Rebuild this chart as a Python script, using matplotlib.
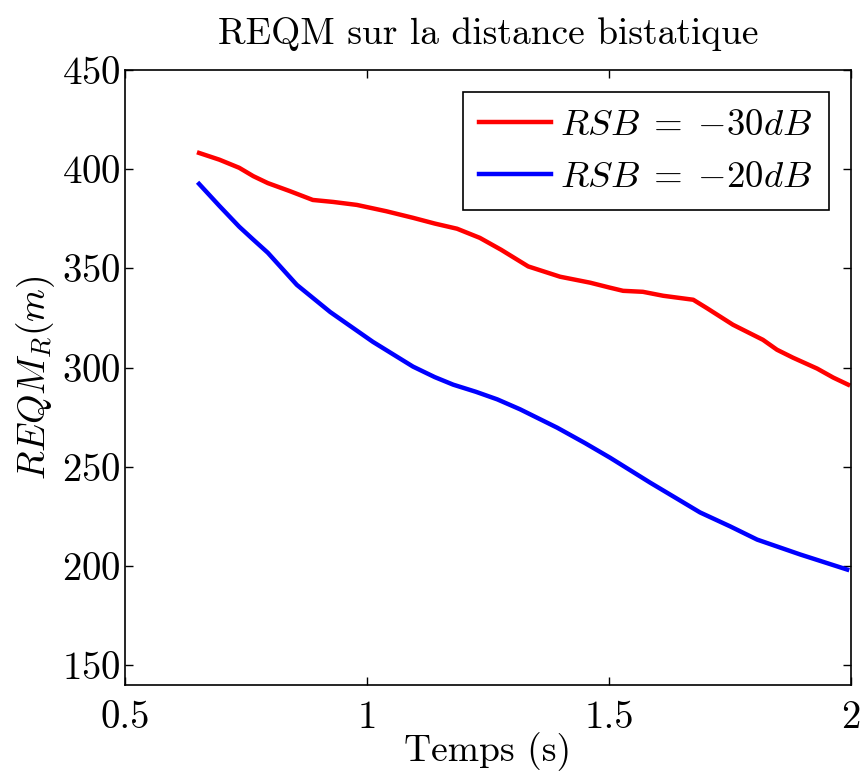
import matplotlib
matplotlib.use("Agg")
import matplotlib.pyplot as plt

# courbes
temps_30 = [0.653, 0.695, 0.736, 0.765, 0.795, 0.840, 0.888, 0.930, 0.979, 1.040, 1.095,
            1.140, 1.186, 1.233, 1.277, 1.333, 1.399, 1.461, 1.500, 1.529, 1.570, 1.612,
            1.674, 1.702, 1.756, 1.818, 1.847, 1.880, 1.930, 1.963, 1.994]
reqm_30 = [408.2, 404.8, 400.7, 396.5, 393.0, 389.0, 384.5, 383.5, 382.0, 378.8, 375.5,
           372.6, 370.0, 365.4, 359.4, 351.0, 345.8, 342.8, 340.4, 338.7, 338.2, 336.2,
           334.2, 330.0, 321.6, 314.0, 309.0, 305.0, 299.5, 295.0, 291.4]

temps_20 = [0.653, 0.695, 0.736, 0.765, 0.795, 0.855, 0.924, 1.012, 1.095, 1.140, 1.178,
            1.225, 1.269, 1.316, 1.393, 1.450, 1.502, 1.585, 1.640, 1.688, 1.750, 1.806,
            1.895, 1.992]
reqm_20 = [392.6, 381.5, 371.0, 364.5, 357.9, 341.7, 328.0, 313.0, 300.5, 295.2, 291.4,
           287.8, 284.0, 279.0, 269.7, 262.0, 254.6, 242.0, 234.0, 227.0, 220.0, 213.3,
           205.8, 198.2]

labels = [r'$RSB\;=\;{-}30dB$', r'$RSB\;=\;{-}20dB$']

plt.rcParams['font.family'] = 'serif'
plt.rcParams['font.serif'] = ['cmr10']
plt.rcParams['mathtext.fontset'] = 'cm'
plt.rcParams['axes.formatter.use_mathtext'] = True

fig = plt.figure(figsize=(8.64, 7.71), dpi=100)
ax = fig.add_axes([0.1447, 0.1115, 0.8403, 0.7977])

ax.plot(temps_30, reqm_30, color='#ff0000', lw=3.2, label=labels[0])
ax.plot(temps_20, reqm_20, color='#0000ff', lw=3.2, label=labels[1])

ax.set_xlim(0.5, 2)
ax.set_ylim(140, 450)
ax.set_xticks([0.5, 1, 1.5, 2])
ax.set_xticklabels(['0.5', '1', '1.5', '2'])
ax.set_yticks([150, 200, 250, 300, 350, 400, 450])
ax.tick_params(direction='in', length=6, width=1, top=True, right=True, labelsize=28)
ax.tick_params(axis='y', pad=3)
ax.tick_params(axis='x', pad=11)
for s in ax.spines.values():
    s.set_linewidth(1.2)

ax.set_title('REQM sur la distance bistatique', fontsize=27, pad=19)
ax.set_xlabel('Temps (s)', fontsize=27, labelpad=-3)
ax.set_ylabel(r'$REQM_R(m)$', fontsize=27, labelpad=4)

leg = ax.legend(loc='upper right', fontsize=26.5, fancybox=False, edgecolor='black',
                framealpha=1, borderaxespad=0.6, handlelength=1.95, handletextpad=0.25,
                borderpad=0.45, labelspacing=0.5)
leg.get_frame().set_linewidth(1.2)

fig.savefig('out.png', dpi=100)
